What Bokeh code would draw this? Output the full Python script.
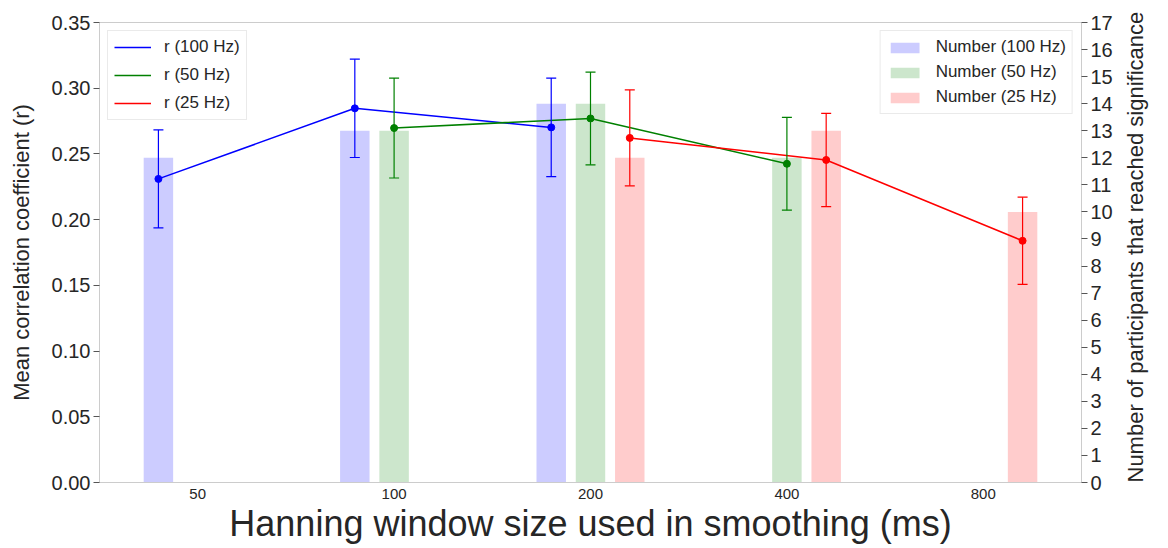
import math
from bokeh.plotting import figure
from bokeh.models import (Range1d, LinearAxis, FixedTicker, NumeralTickFormatter,
                          ColumnDataSource, Whisker, TeeHead, Legend, LegendItem)
from bokeh.embed import file_html
from bokeh.resources import INLINE

# ---------------- data ----------------
windows = ["50", "100", "200", "400", "800"]          # Hanning window size (ms)
r_ticks = [0.0, 0.05, 0.10, 0.15, 0.20, 0.25, 0.30, 0.35]
count_ticks = list(range(0, 18))

# index of the window each series value belongs to
idx_100 = [0, 1, 2]
idx_50 = [1, 2, 3]
idx_25 = [2, 3, 4]

# number of participants that reached significance (right axis)
count_100 = [12, 13, 14]
count_50 = [13, 14, 12]
count_25 = [12, 13, 10]

# mean correlation coefficient r and its error (left axis)
r_100 = [0.2310, 0.2847, 0.2702]
err_100 = [0.0373, 0.0374, 0.0375]
r_50 = [0.2697, 0.2770, 0.2425]
err_50 = [0.0380, 0.0353, 0.0353]
r_25 = [0.2622, 0.2454, 0.1839]
err_25 = [0.0365, 0.0355, 0.0332]

# ---------------- style ----------------
FONT = "Liberation Sans"
TXT = "#262626"
SPINE = "#cccccc"
series = [
    ("100 Hz", idx_100, count_100, r_100, err_100, -0.2, "#0000ff", "#ccccff"),
    ("50 Hz", idx_50, count_50, r_50, err_50, 0.0, "#008000", "#cce6cc"),
    ("25 Hz", idx_25, count_25, r_25, err_25, 0.2, "#ff0000", "#ffcccc"),
]

X_MIN, X_MAX = -0.5, 4.5
C_MAX = 17

p = figure(width=1166, height=548, output_backend="svg", toolbar_location=None,
           x_range=Range1d(X_MIN, X_MAX), y_range=Range1d(0, 0.35),
           min_border_left=99, min_border_right=85, min_border_top=22, min_border_bottom=66)
p.extra_y_ranges = {"count": Range1d(0, C_MAX)}
p.xgrid.visible = False
p.ygrid.visible = False
p.outline_line_color = SPINE
p.outline_line_width = 1
p.background_fill_color = "white"
p.border_fill_color = "white"

bar_items = []
line_items = []
sources = []
for name, idx, cnt, r, err, off, col, fill in series:
    xs = [i + off for i in idx]
    src = ColumnDataSource(dict(x=xs, count=cnt, r=r,
                                lo=[a - b for a, b in zip(r, err)],
                                hi=[a + b for a, b in zip(r, err)]))
    b = p.vbar(x="x", top="count", width=0.15, source=src, y_range_name="count",
               fill_color=fill, line_color=None)
    bar_items.append(LegendItem(label="Number (%s)" % name, renderers=[b]))
    sources.append(src)

for (name, idx, cnt, r, err, off, col, fill), src in zip(series, sources):
    w = Whisker(base="x", upper="hi", lower="lo", source=src, dimension="height",
                line_color=col, line_width=1.2, level="annotation",
                upper_head=TeeHead(size=10, line_color=col, line_width=1.2),
                lower_head=TeeHead(size=10, line_color=col, line_width=1.2))
    p.add_layout(w)
    ln = p.line(x="x", y="r", source=src, line_color=col, line_width=1.5)
    p.scatter(x="x", y="r", source=src, size=7, fill_color=col, line_color=col)
    line_items.append(LegendItem(label="r (%s)" % name, renderers=[ln]))

# ---------------- axes ----------------
xa = p.xaxis[0]
xa.ticker = FixedTicker(ticks=list(range(len(windows))))
xa.major_label_overrides = {i: w for i, w in enumerate(windows)}
xa.axis_label = "Hanning window size used in smoothing (ms)"
xa.axis_label_text_font_size = "36px"
xa.axis_label_text_font = FONT
xa.axis_label_text_font_style = "normal"
xa.axis_label_text_color = TXT
xa.axis_label_standoff = 1
xa.major_label_text_font_size = "15px"
xa.major_label_text_font = FONT
xa.major_label_text_color = TXT
xa.major_label_standoff = 6
xa.major_tick_out = 0
xa.major_tick_in = 0
xa.minor_tick_out = 0
xa.minor_tick_in = 0
xa.axis_line_color = SPINE

ya = p.yaxis[0]
ya.ticker = FixedTicker(ticks=r_ticks)
ya.formatter = NumeralTickFormatter(format="0.00")
ya.axis_label = "Mean correlation coefficient (r)"
ya.axis_label_text_font_size = "22px"
ya.axis_label_text_font = FONT
ya.axis_label_text_font_style = "normal"
ya.axis_label_text_color = TXT
ya.axis_label_standoff = 15
ya.major_label_text_font_size = "20px"
ya.major_label_text_font = FONT
ya.major_label_text_color = TXT
ya.major_label_standoff = 3
ya.major_tick_out = 6
ya.major_tick_in = 0
ya.major_tick_line_color = "#555555"
ya.minor_tick_out = 0
ya.minor_tick_in = 0
ya.axis_line_color = SPINE

ra = LinearAxis(y_range_name="count", ticker=FixedTicker(ticks=count_ticks))
ra.major_label_text_font_size = "20px"
ra.major_label_text_font = FONT
ra.major_label_text_color = TXT
ra.major_label_standoff = 3
ra.major_tick_out = 6
ra.major_tick_in = 0
ra.major_tick_line_color = "#555555"
ra.minor_tick_out = 0
ra.minor_tick_in = 0
ra.axis_line_color = SPINE
p.add_layout(ra, "right")

# right axis title, reading bottom-to-top like the reference:
# a bare second right axis whose single label starts at the bottom of the frame
rt = LinearAxis(y_range_name="count", ticker=FixedTicker(ticks=[0]))
rt.major_label_overrides = {0: "Number of participants that reached significance"}
rt.major_label_orientation = math.pi / 2
rt.major_label_text_font_size = "22px"
rt.major_label_text_font = FONT
rt.major_label_text_color = TXT
rt.major_label_standoff = 20
rt.major_tick_out = 0
rt.major_tick_in = 0
rt.minor_tick_out = 0
rt.minor_tick_in = 0
rt.axis_line_color = None
p.add_layout(rt, "right")

# ---------------- legends ----------------
def style_legend(lg, gw, gh, spacing):
    lg.label_text_font = FONT
    lg.label_text_font_size = "17px"
    lg.label_text_color = TXT
    lg.label_height = 20
    lg.label_standoff = 13
    lg.glyph_width = gw
    lg.glyph_height = gh
    lg.spacing = spacing
    lg.padding = 6
    lg.margin = 8
    lg.border_line_color = "#d6d6d6"
    lg.border_line_width = 1
    lg.background_fill_color = "white"
    lg.background_fill_alpha = 0.85

leg_l = Legend(items=line_items, location="top_left")
style_legend(leg_l, 37, 20, 8)
leg_r = Legend(items=bar_items, location="top_right")
style_legend(leg_r, 36, 13, 5)
p.add_layout(leg_l, "center")
p.add_layout(leg_r, "center")

open("out.html", "w").write(file_html(p, INLINE))
